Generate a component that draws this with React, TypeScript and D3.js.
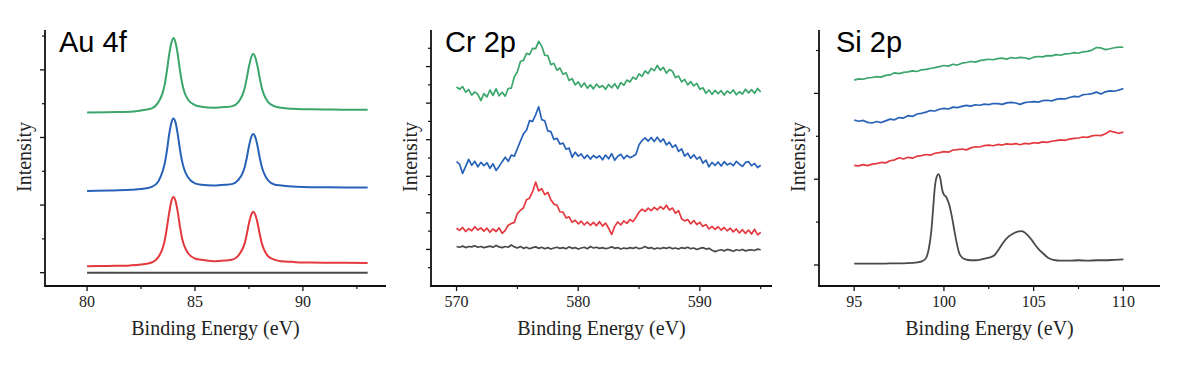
import React from 'react';
import * as d3 from 'd3';

// ---- Au 4f ----
const auEnergy = [
  80, 81, 82, 82.5, 83, 83.3, 83.5, 83.6, 83.7, 83.8, 83.9, 84, 84.1, 84.2, 84.3,
  84.4, 84.5, 84.7, 85, 85.3, 85.85, 86.4, 86.7, 87, 87.2, 87.3, 87.4, 87.5, 87.6,
  87.7, 87.8, 87.9, 88, 88.1, 88.2, 88.4, 88.7, 89, 89.5, 90, 91, 92, 93,
];
const auGreen = [
  2.37, 2.375, 2.38, 2.4, 2.43, 2.52, 2.66, 2.79, 2.99, 3.22, 3.39, 3.47, 3.4, 3.23, 3.0,
  2.81, 2.68, 2.55, 2.48, 2.455, 2.44, 2.45, 2.46, 2.52, 2.63, 2.73, 2.88, 3.05, 3.18,
  3.24, 3.18, 3.05, 2.88, 2.73, 2.63, 2.52, 2.46, 2.44, 2.425, 2.418, 2.415, 2.41, 2.41,
];
const auBlue = [
  1.21, 1.215, 1.225, 1.237, 1.27, 1.35, 1.5, 1.62, 1.81, 2.04, 2.21, 2.28, 2.22, 2.05, 1.83,
  1.65, 1.53, 1.4, 1.32, 1.3, 1.29, 1.3, 1.31, 1.37, 1.47, 1.56, 1.7, 1.87, 2.0,
  2.05, 2.0, 1.87, 1.7, 1.56, 1.47, 1.36, 1.3, 1.29, 1.275, 1.268, 1.263, 1.26, 1.26,
];
const auRed = [
  0.095, 0.1, 0.108, 0.12, 0.15, 0.23, 0.36, 0.48, 0.67, 0.88, 1.05, 1.12, 1.06, 0.9, 0.69,
  0.51, 0.4, 0.28, 0.21, 0.19, 0.17, 0.18, 0.19, 0.25, 0.35, 0.43, 0.57, 0.73, 0.85,
  0.9, 0.85, 0.73, 0.57, 0.43, 0.34, 0.24, 0.19, 0.17, 0.16, 0.15, 0.148, 0.146, 0.145,
];
const auGrayEnergy = [80, 86.5, 93];
const auGray = [0, 0, 0];

// ---- Cr 2p ----
const crEnergy = [
  570, 570.25, 570.5, 570.75, 571, 571.25, 571.5, 571.75, 572, 572.25,
  572.5, 572.75, 573, 573.25, 573.5, 573.75, 574, 574.25, 574.5, 574.75,
  575, 575.25, 575.5, 575.75, 576, 576.25, 576.5, 576.75, 577, 577.25,
  577.5, 577.75, 578, 578.25, 578.5, 578.75, 579, 579.25, 579.5, 579.75,
  580, 580.25, 580.5, 580.75, 581, 581.25, 581.5, 581.75, 582, 582.25,
  582.5, 582.75, 583, 583.25, 583.5, 583.75, 584, 584.25, 584.5, 584.75,
  585, 585.25, 585.5, 585.75, 586, 586.25, 586.5, 586.75, 587, 587.25,
  587.5, 587.75, 588, 588.25, 588.5, 588.75, 589, 589.25, 589.5, 589.75,
  590, 590.25, 590.5, 590.75, 591, 591.25, 591.5, 591.75, 592, 592.25,
  592.5, 592.75, 593, 593.25, 593.5, 593.75, 594, 594.25, 594.5, 594.75,
  595,
];
const crGreen = [
  4.44, 4.38, 4.45, 4.3, 4.37, 4.22, 4.31, 4.24, 4.07, 4.26,
  4.17, 4.36, 4.21, 4.39, 4.2, 4.3, 4.19, 4.4, 4.41, 4.72,
  4.86, 5.14, 5.17, 5.36, 5.33, 5.5, 5.49, 5.69, 5.56, 5.31,
  5.3, 5.05, 5.09, 4.9, 4.96, 4.79, 4.83, 4.62, 4.67, 4.5,
  4.58, 4.44, 4.55, 4.41, 4.5, 4.39, 4.52, 4.43, 4.48, 4.38,
  4.51, 4.42, 4.53, 4.4, 4.56, 4.49, 4.63, 4.58, 4.71, 4.65,
  4.8, 4.73, 4.88, 4.81, 4.95, 4.89, 5.03, 4.9, 4.98, 4.82,
  4.92, 4.87, 4.7, 4.74, 4.58, 4.65, 4.5, 4.59, 4.47, 4.54,
  4.38, 4.42, 4.27, 4.36, 4.24, 4.35, 4.26, 4.34, 4.22, 4.33,
  4.27, 4.36, 4.23, 4.31, 4.25, 4.38, 4.28, 4.37, 4.27, 4.4,
  4.31,
];
const crBlue = [
  2.4, 2.33, 2.08, 2.27, 2.46, 2.3, 2.41, 2.26, 2.38, 2.29,
  2.37, 2.22, 2.34, 2.16, 2.27, 2.4, 2.52, 2.41, 2.58, 2.55,
  2.76, 2.96, 3.16, 3.26, 3.52, 3.5, 3.68, 3.9, 3.55, 3.52,
  3.24, 3.22, 3.01, 3.04, 2.88, 2.91, 2.74, 2.77, 2.52, 2.66,
  2.55, 2.61, 2.49, 2.58, 2.47, 2.57, 2.5, 2.56, 2.45, 2.58,
  2.48, 2.62, 2.44, 2.55, 2.6, 2.48, 2.57, 2.51, 2.55, 2.6,
  2.86, 2.98, 3.05, 2.96, 3.06, 2.95, 3.07, 2.94, 3.02, 2.86,
  2.93, 2.79, 2.86, 2.68, 2.75, 2.55, 2.63, 2.49, 2.59, 2.47,
  2.53, 2.36, 2.44, 2.26, 2.38, 2.3, 2.39, 2.28, 2.4, 2.31,
  2.36, 2.29, 2.41, 2.33, 2.27, 2.38, 2.4, 2.29, 2.35, 2.24,
  2.3,
];
const crRed = [
  0.58, 0.52, 0.6, 0.49, 0.57, 0.51, 0.62, 0.53, 0.59, 0.5,
  0.58, 0.47, 0.56, 0.49, 0.59, 0.44, 0.52, 0.66, 0.71, 0.74,
  0.98, 1.07, 1.14, 1.36, 1.4, 1.58, 1.84, 1.6, 1.66, 1.5,
  1.56, 1.36, 1.24, 1.21, 1.03, 1.02, 0.86, 0.89, 0.74, 0.8,
  0.7, 0.77, 0.67, 0.75, 0.66, 0.74, 0.65, 0.76, 0.64, 0.72,
  0.58, 0.41, 0.63, 0.75, 0.67, 0.78, 0.71, 0.82, 0.76, 0.88,
  1.02, 1.1, 1.04, 1.13, 1.06, 1.15, 1.08, 1.17, 1.1, 1.21,
  1.08, 1.13, 0.99, 1.06, 0.84, 0.78, 0.82, 0.7, 0.79, 0.68,
  0.74, 0.63, 0.68, 0.56, 0.63, 0.55, 0.62, 0.53, 0.6, 0.51,
  0.58, 0.48, 0.56, 0.45, 0.54, 0.44, 0.53, 0.42, 0.55, 0.4,
  0.47,
];
const crGray = [
  0.08, 0.06, 0.09, 0.05, 0.08, 0.07, 0.1, 0.06, 0.08, 0.05,
  0.07, 0.09, 0.06, 0.11, 0.07, 0.05, 0.08, 0.06, 0.12, 0.07,
  0.04, 0.08, 0.03, 0.06, 0.02, 0.05, 0.07, 0.03, 0.06, 0.02,
  0.05, 0.01, 0.04, 0.06, 0.03, 0.05, 0.02, 0.07, 0.03, 0.05,
  0.01, 0.04, 0.06, 0.02, 0.08, 0.04, 0.06, 0.03, 0.05, 0.02,
  0.04, 0.07, 0.03, 0.05, 0.01, 0.04, 0.02, 0.05, 0.03, 0.06,
  0.02, 0.04, 0.08, 0.03, 0.05, 0.01, 0.04, 0.02, 0.05, 0.03,
  0.06, 0.02, 0.04, 0.01, 0.05, 0.03, 0.06, 0.02, 0.04, 0.0,
  0.03, 0.05, 0.01, 0.03, -0.02, -0.06, -0.03, -0.01, -0.04, 0.0,
  -0.02, -0.05, -0.01, -0.03, 0.0, -0.04, -0.02, -0.01, -0.03, 0.01,
  -0.01,
];

// ---- Si 2p ----
const siEnergy = [
  95, 95.25, 95.5, 95.75, 96, 96.25, 96.5, 96.75,
  97, 97.25, 97.5, 97.75, 98, 98.25, 98.5, 98.75,
  99, 99.25, 99.5, 99.75, 100, 100.25, 100.5, 100.75,
  101, 101.25, 101.5, 101.75, 102, 102.25, 102.5, 102.75,
  103, 103.25, 103.5, 103.75, 104, 104.25, 104.5, 104.75,
  105, 105.25, 105.5, 105.75, 106, 106.25, 106.5, 106.75,
  107, 107.25, 107.5, 107.75, 108, 108.25, 108.5, 108.75,
  109, 109.25, 109.5, 109.75, 110,
];
const siGreen = [
  2.155, 2.17, 2.165, 2.18, 2.185, 2.195, 2.19, 2.21,
  2.215, 2.24, 2.23, 2.245, 2.25, 2.262, 2.255, 2.275,
  2.28, 2.29, 2.3, 2.312, 2.325, 2.318, 2.34, 2.33,
  2.352, 2.36, 2.372, 2.365, 2.382, 2.39, 2.398, 2.392,
  2.405, 2.412, 2.4, 2.418, 2.41, 2.42, 2.415, 2.4,
  2.422, 2.43, 2.425, 2.44, 2.438, 2.452, 2.445, 2.46,
  2.462, 2.475, 2.468, 2.485, 2.49, 2.505, 2.535, 2.53,
  2.51, 2.52, 2.532, 2.54, 2.538,
];
const siBlue = [
  1.69, 1.675, 1.685, 1.662, 1.655, 1.672, 1.66, 1.68,
  1.7, 1.692, 1.718, 1.712, 1.74, 1.732, 1.76, 1.768,
  1.782, 1.8, 1.795, 1.815, 1.825, 1.818, 1.84, 1.835,
  1.848, 1.86, 1.852, 1.868, 1.862, 1.875, 1.87, 1.882,
  1.88, 1.872, 1.89, 1.895, 1.888, 1.872, 1.892, 1.9,
  1.905, 1.898, 1.915, 1.92, 1.912, 1.93, 1.94, 1.935,
  1.952, 1.965, 1.96, 1.985, 1.99, 1.998, 2.015, 1.992,
  2.018, 2.03, 2.025, 2.04, 2.055,
];
const siRed = [
  1.162, 1.155, 1.17, 1.158, 1.175, 1.182, 1.195, 1.19,
  1.215, 1.225, 1.25, 1.235, 1.255, 1.245, 1.268, 1.275,
  1.288, 1.28, 1.302, 1.31, 1.322, 1.315, 1.34, 1.345,
  1.352, 1.342, 1.365, 1.378, 1.375, 1.392, 1.398, 1.39,
  1.405, 1.398, 1.412, 1.405, 1.415, 1.402, 1.418, 1.412,
  1.425, 1.42, 1.435, 1.43, 1.442, 1.45, 1.458, 1.452,
  1.468, 1.475, 1.48, 1.492, 1.488, 1.505, 1.512, 1.508,
  1.53, 1.562, 1.548, 1.535, 1.548,
];
const siGrayEnergy = [
  95, 96, 97, 98, 98.5, 98.8, 99, 99.15, 99.3, 99.4, 99.5, 99.6, 99.7, 99.8, 99.9,
  100, 100.1, 100.2, 100.3, 100.4, 100.5, 100.6, 100.7, 100.85, 101, 101.2, 101.5,
  101.8, 102.1, 102.5, 102.8, 103.05, 103.3, 103.6, 103.9, 104.1, 104.3, 104.5,
  104.7, 104.9, 105.1, 105.3, 105.5, 105.8, 106.1, 106.5, 107, 107.5, 108, 108.5,
  109, 109.5, 110,
];
const siGray = [
  0.015, 0.015, 0.018, 0.022, 0.03, 0.045, 0.08, 0.18, 0.4, 0.66, 0.92, 1.03, 1.06, 1.01, 0.88,
  0.82, 0.8, 0.76, 0.7, 0.61, 0.5, 0.38, 0.27, 0.14, 0.09, 0.065, 0.055,
  0.055, 0.065, 0.085, 0.11, 0.18, 0.26, 0.33, 0.37, 0.39, 0.395, 0.38,
  0.34, 0.29, 0.23, 0.18, 0.14, 0.085, 0.06, 0.05, 0.05, 0.055, 0.05, 0.055,
  0.055, 0.06, 0.065,
];

// ticks
const auXTicks = [80, 85, 90];
const auXMinor = [82.5, 87.5, 92.5];
const auYTicks = [0, 1, 2, 3];
const auYMinor = [0.5, 1.5, 2.5, 3.5];
const crXTicks = [570, 580, 590];
const crXMinor = [575, 585, 595];
const crYTicks = [0, 1, 2, 3, 4, 5];
const crYMinor = [-0.5, 0.5, 1.5, 2.5, 3.5, 4.5, 5.5];
const siXTicks = [95, 100, 105, 110];
const siXMinor = [97.5, 102.5, 107.5];
const siYTicks = [0, 1, 2];
const siYMinor = [0.5, 1.5, 2.5];

const GREEN = '#3ba66b';
const BLUE = '#2862b8';
const RED = '#e4393f';
const GRAY = '#4a4a4a';

const TOP = 30;
const BOTTOM = 286;
const PLOT_W = 341;
const SERIF = '"Liberation Serif", "Times New Roman", serif';
const SANS = '"Liberation Sans", Arial, sans-serif';

interface Series {
  x: number[];
  y: number[];
  color: string;
  width: number;
  curve: d3.CurveFactory;
}

interface PanelSpec {
  title: string;
  left: number;
  titleDx: number;
  xDomain: [number, number];
  yDomain: [number, number];
  xTicks: number[];
  xMinor: number[];
  yTicks: number[];
  yMinor: number[];
  series: Series[];
}

const panels: PanelSpec[] = [
  {
    title: 'Au 4f',
    left: 45,
    titleDx: 14,
    xDomain: [78.05, 93.85],
    yDomain: [-0.197, 3.59],
    xTicks: auXTicks,
    xMinor: auXMinor,
    yTicks: auYTicks,
    yMinor: auYMinor,
    series: [
      { x: auGrayEnergy, y: auGray, color: GRAY, width: 2, curve: d3.curveLinear },
      { x: auEnergy, y: auRed, color: RED, width: 2, curve: d3.curveMonotoneX },
      { x: auEnergy, y: auBlue, color: BLUE, width: 2, curve: d3.curveMonotoneX },
      { x: auEnergy, y: auGreen, color: GREEN, width: 2, curve: d3.curveMonotoneX },
    ],
  },
  {
    title: 'Cr 2p',
    left: 431,
    titleDx: 14,
    xDomain: [567.9, 595.93],
    yDomain: [-1, 6],
    xTicks: crXTicks,
    xMinor: crXMinor,
    yTicks: crYTicks,
    yMinor: crYMinor,
    series: [
      { x: crEnergy, y: crGray, color: GRAY, width: 1.7, curve: d3.curveLinear },
      { x: crEnergy, y: crRed, color: RED, width: 1.7, curve: d3.curveLinear },
      { x: crEnergy, y: crBlue, color: BLUE, width: 1.7, curve: d3.curveLinear },
      { x: crEnergy, y: crGreen, color: GREEN, width: 1.7, curve: d3.curveLinear },
    ],
  },
  {
    title: 'Si 2p',
    left: 819,
    titleDx: 17,
    xDomain: [93.04, 112.04],
    yDomain: [-0.245, 2.739],
    xTicks: siXTicks,
    xMinor: siXMinor,
    yTicks: siYTicks,
    yMinor: siYMinor,
    series: [
      { x: siGrayEnergy, y: siGray, color: GRAY, width: 1.8, curve: d3.curveMonotoneX },
      { x: siEnergy, y: siRed, color: RED, width: 1.7, curve: d3.curveLinear },
      { x: siEnergy, y: siBlue, color: BLUE, width: 1.7, curve: d3.curveLinear },
      { x: siEnergy, y: siGreen, color: GREEN, width: 1.7, curve: d3.curveLinear },
    ],
  },
];

const Panel: React.FC<{ p: PanelSpec }> = ({ p }) => {
  const x = d3.scaleLinear().domain(p.xDomain).range([p.left, p.left + PLOT_W]);
  const y = d3.scaleLinear().domain(p.yDomain).range([BOTTOM, TOP]);
  const midX = p.left + PLOT_W / 2;

  return (
    <g>
      {p.series.map((s, i) => {
        const line = d3
          .line<number>()
          .x((_, j) => x(s.x[j]))
          .y((d) => y(d))
          .curve(s.curve);
        return (
          <path
            key={i}
            d={line(s.y) ?? ''}
            fill="none"
            stroke={s.color}
            strokeWidth={s.width}
            strokeLinejoin="round"
          />
        );
      })}

      {/* axes */}
      <line x1={p.left} x2={p.left} y1={TOP} y2={BOTTOM + 0.9} stroke="#111" strokeWidth={1.8} />
      <line x1={p.left - 0.9} x2={p.left + PLOT_W} y1={BOTTOM} y2={BOTTOM} stroke="#111" strokeWidth={1.8} />

      {p.yTicks.map((t) => (
        <line key={'ym' + t} x1={p.left - 5} x2={p.left} y1={y(t)} y2={y(t)} stroke="#111" strokeWidth={1.3} />
      ))}
      {p.yMinor.map((t) => (
        <line key={'yn' + t} x1={p.left - 3} x2={p.left} y1={y(t)} y2={y(t)} stroke="#111" strokeWidth={1.2} />
      ))}
      {p.xTicks.map((t) => (
        <g key={'xm' + t}>
          <line x1={x(t)} x2={x(t)} y1={BOTTOM} y2={BOTTOM + 5} stroke="#111" strokeWidth={1.3} />
          <text
            x={x(t)}
            y={307}
            textAnchor="middle"
            fontFamily={SERIF}
            fontSize={16}
            fill="#222"
          >
            {t}
          </text>
        </g>
      ))}
      {p.xMinor.map((t) => (
        <line key={'xn' + t} x1={x(t)} x2={x(t)} y1={BOTTOM} y2={BOTTOM + 3} stroke="#111" strokeWidth={1.2} />
      ))}

      {/* labels */}
      <text x={midX} y={335} textAnchor="middle" fontFamily={SERIF} fontSize={20} fill="#222">
        Binding Energy (eV)
      </text>
      <text
        transform={`translate(${p.left - 14},157) rotate(-90)`}
        textAnchor="middle"
        fontFamily={SERIF}
        fontSize={20}
        fill="#222"
      >
        Intensity
      </text>
      <text x={p.left + p.titleDx} y={52} fontFamily={SANS} fontSize={29} fill="#000">
        {p.title}
      </text>
    </g>
  );
};

export default function App() {
  return (
    <svg
      width={1200}
      height={371}
      style={{ position: 'absolute', left: 0, top: 0, background: '#fff' }}
    >
      <rect width={1200} height={371} fill="#fff" />
      {panels.map((p) => (
        <Panel key={p.title} p={p} />
      ))}
    </svg>
  );
}
